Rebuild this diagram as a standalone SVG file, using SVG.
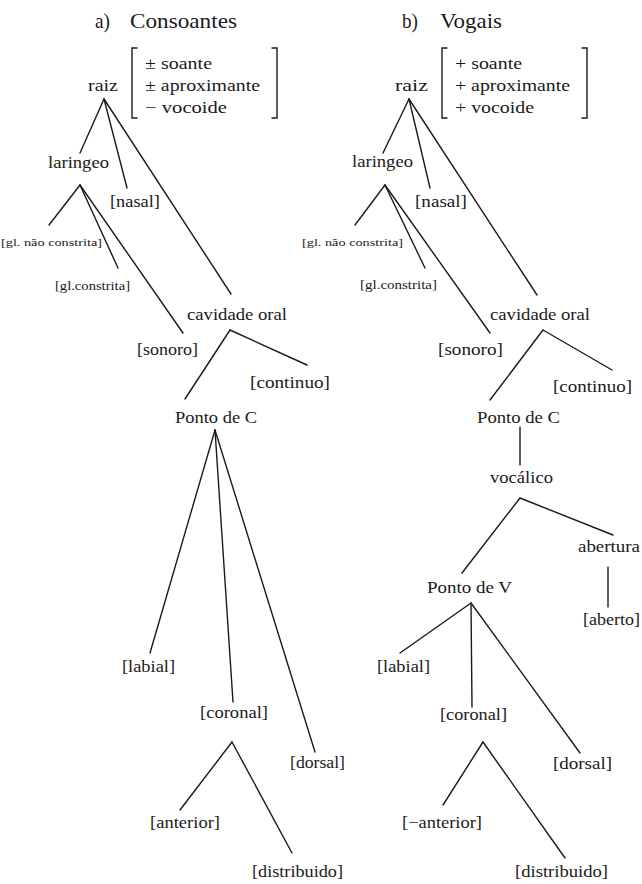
<svg xmlns="http://www.w3.org/2000/svg" width="642" height="884" viewBox="0 0 642 884" font-family="'Liberation Serif', 'DejaVu Serif', serif">
<style>
text{font-family:'Liberation Serif','DejaVu Serif',serif;fill:#1a1a1a;font-size:17px}
.t{font-size:22px}
.f{font-size:17px}
.s{font-size:11px}
.m{font-size:12px}
line,path{stroke:#1a1a1a;stroke-width:1.4;fill:none;stroke-linecap:round}
</style>
<rect width="642" height="884" fill="#fff"/>
<g id="connectors">
<line x1="104" y1="99" x2="80" y2="153"/>
<line x1="104" y1="99" x2="127" y2="188"/>
<line x1="104" y1="99" x2="231" y2="294"/>
<line x1="80" y1="185" x2="49" y2="225"/>
<line x1="80" y1="185" x2="118" y2="268"/>
<line x1="80" y1="185" x2="183" y2="333"/>
<line x1="230" y1="330" x2="185" y2="399"/>
<line x1="230" y1="330" x2="307" y2="365"/>
<line x1="215" y1="430" x2="150" y2="653"/>
<line x1="215" y1="430" x2="233" y2="702"/>
<line x1="215" y1="430" x2="315" y2="752"/>
<line x1="232" y1="742" x2="180" y2="810"/>
<line x1="232" y1="742" x2="292" y2="853"/>
<line x1="409" y1="99" x2="383" y2="153"/>
<line x1="409" y1="99" x2="430" y2="188"/>
<line x1="409" y1="99" x2="537" y2="295"/>
<line x1="385" y1="185" x2="355" y2="225"/>
<line x1="385" y1="185" x2="425" y2="268"/>
<line x1="385" y1="185" x2="490" y2="333"/>
<line x1="543" y1="330" x2="490" y2="400"/>
<line x1="543" y1="330" x2="612" y2="370"/>
<line x1="520" y1="427" x2="520" y2="465"/>
<line x1="520" y1="498" x2="462" y2="573"/>
<line x1="520" y1="498" x2="613" y2="535"/>
<line x1="608" y1="567" x2="608" y2="607"/>
<line x1="471" y1="603" x2="400" y2="653"/>
<line x1="471" y1="603" x2="472" y2="707"/>
<line x1="471" y1="603" x2="580" y2="753"/>
<line x1="483" y1="742" x2="443" y2="805"/>
<line x1="483" y1="742" x2="565" y2="858"/>
</g>
<g id="title-a"><text class="t" x="95" y="28" textLength="15" lengthAdjust="spacingAndGlyphs">a)</text><text class="t" x="130" y="28" textLength="107" lengthAdjust="spacingAndGlyphs">Consoantes</text></g>
<g id="title-b"><text class="t" x="402" y="28" textLength="16" lengthAdjust="spacingAndGlyphs">b)</text><text class="t" x="440" y="28" textLength="62" lengthAdjust="spacingAndGlyphs">Vogais</text></g>
<g id="raiz-a"><text x="88" y="91" textLength="30" lengthAdjust="spacingAndGlyphs">raiz</text></g>
<g id="features-a">
<path d="M137,48 H132 V118 H137 M272,48 H277 V118 H272"/>
<text class="f" x="145" y="69" textLength="67" lengthAdjust="spacingAndGlyphs">± soante</text>
<text class="f" x="145" y="91" textLength="115" lengthAdjust="spacingAndGlyphs">± aproximante</text>
<text class="f" x="145" y="113" textLength="82" lengthAdjust="spacingAndGlyphs">− vocoide</text>
</g>
<g id="laringeo-a"><text x="48" y="168" textLength="61" lengthAdjust="spacingAndGlyphs">laringeo</text></g>
<g id="nasal-a"><text x="110" y="207" textLength="50" lengthAdjust="spacingAndGlyphs">[nasal]</text></g>
<g id="glnc-a"><text class="s" x="1" y="246" textLength="101" lengthAdjust="spacingAndGlyphs">[gl. não constrita]</text></g>
<g id="glc-a"><text class="m" x="55" y="290" textLength="75" lengthAdjust="spacingAndGlyphs">[gl.constrita]</text></g>
<g id="cavidade-a"><text x="187" y="320" textLength="100" lengthAdjust="spacingAndGlyphs">cavidade oral</text></g>
<g id="sonoro-a"><text x="137" y="355" textLength="61" lengthAdjust="spacingAndGlyphs">[sonoro]</text></g>
<g id="continuo-a"><text x="250" y="388" textLength="80" lengthAdjust="spacingAndGlyphs">[continuo]</text></g>
<g id="pontoC-a"><text x="175" y="423" textLength="82" lengthAdjust="spacingAndGlyphs">Ponto de C</text></g>
<g id="labial-a"><text x="122" y="672" textLength="53" lengthAdjust="spacingAndGlyphs">[labial]</text></g>
<g id="coronal-a"><text x="200" y="718" textLength="68" lengthAdjust="spacingAndGlyphs">[coronal]</text></g>
<g id="dorsal-a"><text x="290" y="768" textLength="55" lengthAdjust="spacingAndGlyphs">[dorsal]</text></g>
<g id="anterior-a"><text x="150" y="828" textLength="70" lengthAdjust="spacingAndGlyphs">[anterior]</text></g>
<g id="distribuido-a"><text x="252" y="877" textLength="91" lengthAdjust="spacingAndGlyphs">[distribuido]</text></g>
<g id="raiz-b"><text x="395" y="91" textLength="33" lengthAdjust="spacingAndGlyphs">raiz</text></g>
<g id="features-b">
<path d="M447,48 H442 V118 H447 M582,48 H587 V118 H582"/>
<text class="f" x="455" y="69" textLength="67" lengthAdjust="spacingAndGlyphs">+ soante</text>
<text class="f" x="455" y="91" textLength="115" lengthAdjust="spacingAndGlyphs">+ aproximante</text>
<text class="f" x="455" y="113" textLength="79" lengthAdjust="spacingAndGlyphs">+ vocoide</text>
</g>
<g id="laringeo-b"><text x="352" y="167" textLength="61" lengthAdjust="spacingAndGlyphs">laringeo</text></g>
<g id="nasal-b"><text x="415" y="207" textLength="52" lengthAdjust="spacingAndGlyphs">[nasal]</text></g>
<g id="glnc-b"><text class="s" x="302" y="246" textLength="101" lengthAdjust="spacingAndGlyphs">[gl. não constrita]</text></g>
<g id="glc-b"><text class="m" x="360" y="289" textLength="77" lengthAdjust="spacingAndGlyphs">[gl.constrita]</text></g>
<g id="cavidade-b"><text x="490" y="320" textLength="100" lengthAdjust="spacingAndGlyphs">cavidade oral</text></g>
<g id="sonoro-b"><text x="438" y="355" textLength="65" lengthAdjust="spacingAndGlyphs">[sonoro]</text></g>
<g id="continuo-b"><text x="553" y="392" textLength="79" lengthAdjust="spacingAndGlyphs">[continuo]</text></g>
<g id="pontoC-b"><text x="477" y="423" textLength="83" lengthAdjust="spacingAndGlyphs">Ponto de C</text></g>
<g id="vocalico"><text x="490" y="483" textLength="63" lengthAdjust="spacingAndGlyphs">vocálico</text></g>
<g id="abertura"><text x="578" y="552" textLength="62" lengthAdjust="spacingAndGlyphs">abertura</text></g>
<g id="aberto"><text x="583" y="625" textLength="57" lengthAdjust="spacingAndGlyphs">[aberto]</text></g>
<g id="pontoV"><text x="427" y="593" textLength="85" lengthAdjust="spacingAndGlyphs">Ponto de V</text></g>
<g id="labial-b"><text x="377" y="672" textLength="53" lengthAdjust="spacingAndGlyphs">[labial]</text></g>
<g id="coronal-b"><text x="440" y="720" textLength="67" lengthAdjust="spacingAndGlyphs">[coronal]</text></g>
<g id="dorsal-b"><text x="553" y="769" textLength="59" lengthAdjust="spacingAndGlyphs">[dorsal]</text></g>
<g id="anterior-b"><text x="402" y="828" textLength="80" lengthAdjust="spacingAndGlyphs">[−anterior]</text></g>
<g id="distribuido-b"><text x="515" y="877" textLength="93" lengthAdjust="spacingAndGlyphs">[distribuido]</text></g>
</svg>
